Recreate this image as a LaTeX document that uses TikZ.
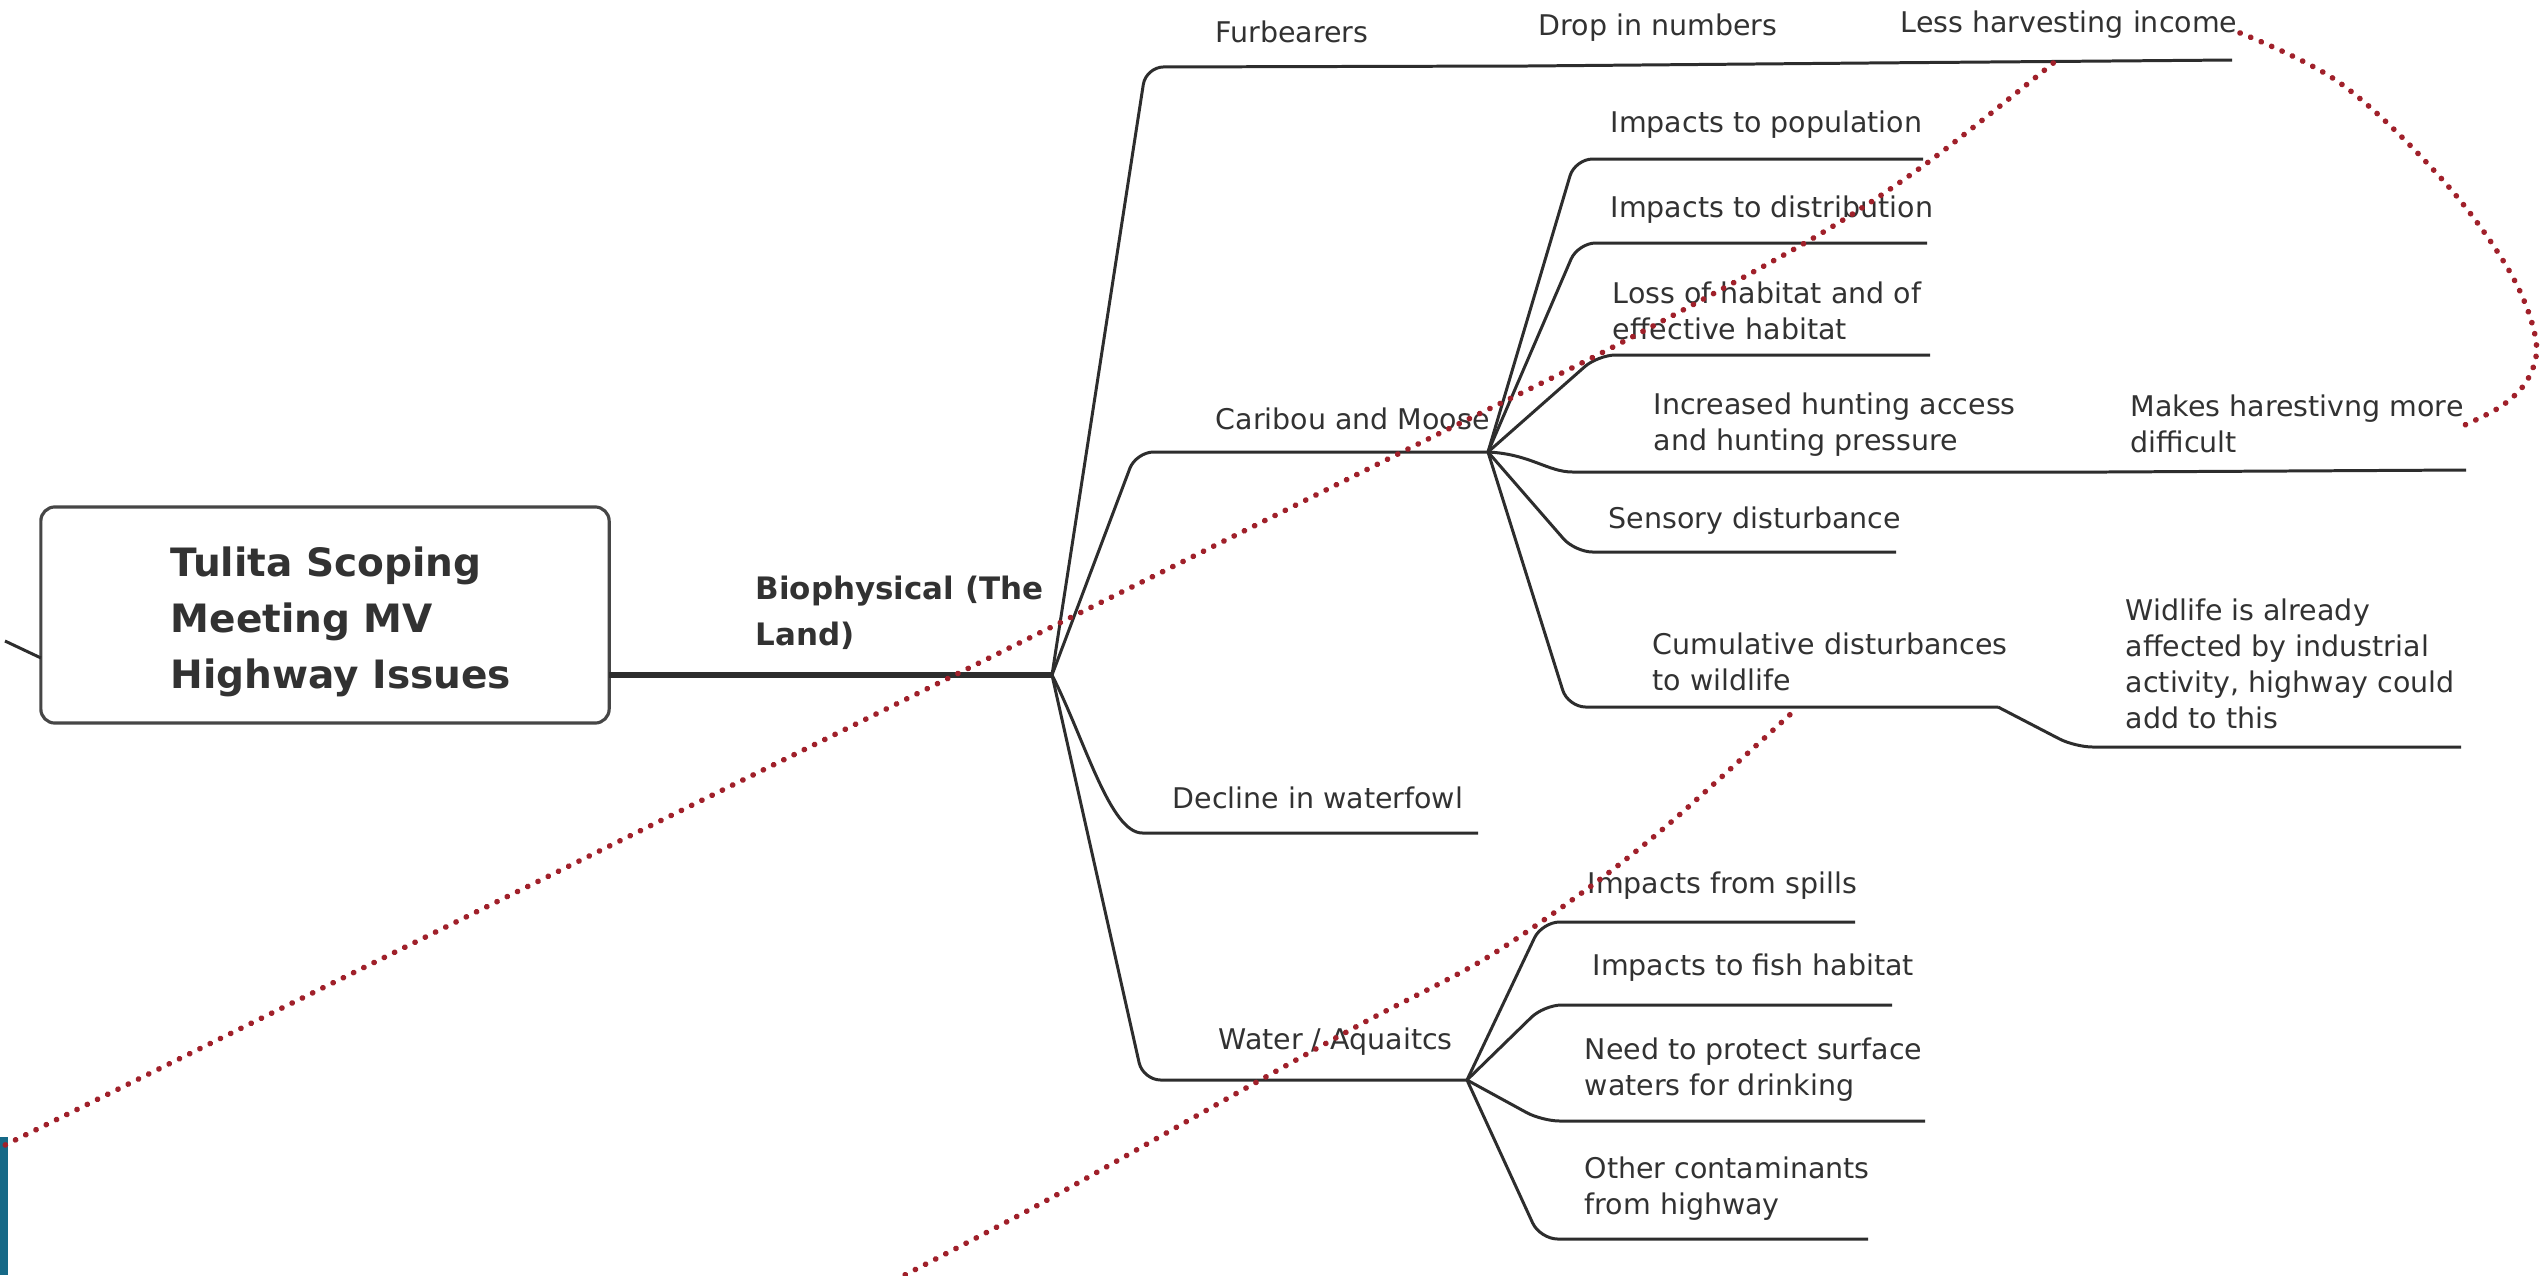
\documentclass[tikz,border=0pt]{standalone}
\usepackage{fontspec}
\setmainfont{DejaVu Sans}
\definecolor{linegray}{RGB}{45,45,45}
\definecolor{txtgray}{RGB}{50,50,50}
\definecolor{dotred}{RGB}{160,32,42}
\definecolor{boxedge}{RGB}{70,70,70}
\definecolor{tealbar}{RGB}{22,105,135}
\begin{document}
\begin{tikzpicture}[x=0.01cm,y=-0.01cm,
  lbl/.style={font=\fontsize{8.1}{10.3}\selectfont, text=txtgray, inner sep=0pt, anchor=west, align=left},
  branch/.style={draw=linegray, line width=0.85pt, rounded corners=5pt},
  mainbranch/.style={draw=linegray, line width=1.7pt},
  reddots/.style={draw=dotred, line width=1.6pt, line cap=round, dash pattern=on 0.05pt off 3.2pt},
  rootbox/.style={draw=boxedge, line width=0.9pt, rounded corners=4pt, fill=white,
    minimum width=5.68cm, minimum height=2.16cm},
  titletext/.style={inner sep=0pt, anchor=west, align=left, text=txtgray,
    font=\fontsize{11.1}{15.9}\selectfont\bfseries},
]
\fill[white] (0,0) rectangle (2547,1275);
\useasboundingbox (0,0) rectangle (2547,1275);
\fill[tealbar] (0,1137) rectangle (8,1275);

% ---------- central box and main branch ----------
\node[rootbox] (root) at (325,615) {};
\node[titletext] (title) at (170,622) {Tulita Scoping\\Meeting MV\\Highway Issues};
\coordinate (stub) at (5,641);
\coordinate (stubend) at (41,658);
\draw[branch] (stub) -- (stubend);
\coordinate (rootout) at (609,675);
\coordinate (H) at (1052,675);
\draw[mainbranch] (rootout) -- (H);
\node[lbl, font=\fontsize{8.8}{13}\selectfont\bfseries] (bio) at (755,613) {Biophysical (The\\Land)};

% ---------- level 1 branches ----------
\coordinate (f1) at (1146,67);
\coordinate (f2) at (1527,66);
\coordinate (f3) at (1868,63);
\coordinate (f4) at (2232,60);
\draw[branch] (H) -- (f1) -- (f2);
\draw[branch] (f2) -- (f3);
\draw[branch] (f3) -- (f4);
\node[lbl] (fur) at (1215,32) {Furbearers};
\node[lbl] (drop) at (1538,28) {Drop in numbers};
\node[lbl] (less) at (1900,25) {Less harvesting income};

\coordinate (c1) at (1136,452);
\coordinate (C) at (1488,452);
\draw[branch] (H) -- (c1) -- (C);
\node[lbl] (car) at (1215,419) {Caribou and Moose};

\coordinate (d1) at (1140,833);
\coordinate (d2) at (1478,833);
\draw[branch] (H) .. controls (1085,740) and (1110,833) .. (1160,833) -- (d2);
\node[lbl] (dec) at (1172,798) {Decline in waterfowl};

\coordinate (w1) at (1143,1080);
\coordinate (W) at (1467,1080);
\draw[branch] (H) -- (w1) -- (W);
\node[lbl] (wat) at (1218,1042) {Water / Aquaitcs};

% ---------- caribou sub-branches ----------
\coordinate (p1) at (1575,159);  \coordinate (p2) at (1923,159);
\coordinate (q1) at (1578,243);  \coordinate (q2) at (1927,243);
\coordinate (l1) at (1598,355);  \coordinate (l2) at (1930,355);
\coordinate (i1) at (1590,472);  \coordinate (i2) at (2106,472); \coordinate (i3) at (2466,470);
\coordinate (s1) at (1575,552);  \coordinate (s2) at (1896,552);
\coordinate (u1) at (1568,707);  \coordinate (u2) at (1998,707);
\coordinate (u3) at (2075,747);  \coordinate (u4) at (2461,747);
\draw[branch] (C) -- (p1) -- (p2);
\draw[branch] (C) -- (q1) -- (q2);
\draw[branch] (C) -- (l1) -- (l2);
\draw[branch] (C) .. controls (1530,454) and (1548,472) .. (i1) -- (i2);
\draw[branch] (i2) -- (i3);
\draw[branch] (C) -- (s1) -- (s2);
\draw[branch] (C) -- (u1) -- (u2);
\draw[branch] (u2) -- (u3) -- (u4);
\node[lbl] (pop) at (1610,125) {Impacts to population};
\node[lbl] (dist) at (1610,210) {Impacts to distribution};
\node[lbl] (loss) at (1612,311) {Loss of habitat and of\\effective habitat};
\node[lbl] (inc) at (1653,425) {Increased hunting access\\and hunting pressure};
\node[lbl] (mak) at (2130,424) {Makes harestivng more\\difficult};
\node[lbl] (sen) at (1608,521) {Sensory disturbance};
\node[lbl] (cum) at (1652,662) {Cumulative disturbances\\to wildlife};
\node[lbl] (wid) at (2125,664) {Widlife is already\\affected by industrial\\activity, highway could\\add to this};

% ---------- water sub-branches ----------
\coordinate (a1) at (1542,922);  \coordinate (a2) at (1855,922);
\coordinate (b1) at (1544,1005); \coordinate (b2) at (1892,1005);
\coordinate (e1) at (1542,1121); \coordinate (e2) at (1925,1121);
\coordinate (o1) at (1540,1239); \coordinate (o2) at (1868,1239);
\draw[branch] (W) -- (a1) -- (a2);
\draw[branch] (W) -- (b1) -- (b2);
\draw[branch] (W) -- (e1) -- (e2);
\draw[branch] (W) -- (o1) -- (o2);
\node[lbl] (spi) at (1587,886) {Impacts from spills};
\node[lbl] (fis) at (1592,968) {Impacts to fish habitat};
\node[lbl] (dri) at (1584,1070) {Need to protect surface\\waters for drinking};
\node[lbl] (oth) at (1584,1189) {Other contaminants\\from highway};

% ---------- red dotted annotations ----------
\coordinate (ra0) at (-5,1150);
\coordinate (ra1) at (973,666);
\coordinate (ra2) at (1400,453);
\coordinate (ra3) at (1613,347);
\coordinate (ra4) at (1810,240);
\coordinate (ra5) at (1927,163);
\coordinate (ra6) at (2057,60);
\draw[reddots] plot[smooth, tension=0.5] coordinates {(ra0) (ra1) (ra2) (ra3) (ra4) (ra5) (ra6)};

\coordinate (rb0) at (895,1280);
\coordinate (rb1) at (1040,1204);
\coordinate (rb2) at (1230,1097);
\coordinate (rb3) at (1363,1023);
\coordinate (rb4) at (1483,960);
\coordinate (rb5) at (1583,892);
\coordinate (rb6) at (1670,823);
\coordinate (rb7) at (1795,710);
\draw[reddots] plot[smooth, tension=0.5] coordinates {(rb0) (rb1) (rb2) (rb3) (rb4) (rb5) (rb6) (rb7)};

\coordinate (rc0) at (2240,33);
\coordinate (rc1) at (2340,83);
\coordinate (rc2) at (2440,177);
\coordinate (rc3) at (2507,267);
\coordinate (rc4) at (2535,335);
\coordinate (rc5) at (2530,375);
\coordinate (rc6) at (2503,405);
\coordinate (rc7) at (2458,428);
\draw[reddots] plot[smooth, tension=0.6] coordinates {(rc0) (rc1) (rc2) (rc3) (rc4) (rc5) (rc6) (rc7)};
\end{tikzpicture}
\end{document}
